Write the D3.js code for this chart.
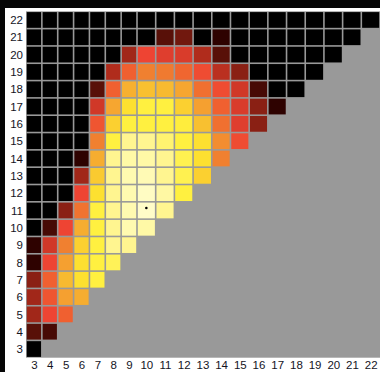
<!DOCTYPE html>
<html><head><meta charset="utf-8">
<script src="https://cdn.jsdelivr.net/npm/d3@7"></script>
<style>html,body{margin:0;padding:0;background:#050505;} svg{display:block;}</style>
</head><body>
<svg id="c" width="380" height="372"></svg>
<script>
const xLabels = [3,4,5,6,7,8,9,10,11,12,13,14,15,16,17,18,19,20,21,22];
const yLabels = [3,4,5,6,7,8,9,10,11,12,13,14,15,16,17,18,19,20,21,22];

// values per row (y = 3 .. 22), each row lists x = 3 .. y
const row3  = [0];
const row4  = [2, 1.6];
const row5  = [3.6, 6, 7];
const row6  = [3.6, 6.6, 9, 9.4];
const row7  = [3, 7, 9.8, 11, 12];
const row8  = [1, 6, 9, 11, 12, 12.3];
const row9  = [1, 5, 8, 10.5, 12, 13, 13];
const row10 = [0, 1.6, 6, 9.4, 12, 13, 14, 13.7];
const row11 = [0, 0, 3, 7.6, 12, 13, 14, 15, 13];
const row12 = [0, 0, 0, 6, 11, 13, 14, 14.8, 13.6, 12];
const row13 = [0, 0, 0, 3.6, 10.3, 13, 14, 14.2, 13, 12.2, 10.5];
const row14 = [0, 0, 0, 1, 9.4, 13, 13.7, 13.7, 13, 12.2, 11, 8];
const row15 = [0, 0, 0, 0, 8, 12, 13, 13, 12.6, 12, 11, 8.4, 6.3];
const row16 = [0, 0, 0, 0, 6.6, 10.5, 12, 12, 12, 11.8, 10, 7.5, 5.5, 3];
const row17 = [0, 0, 0, 0, 5, 9.2, 11, 12, 12, 10.5, 9, 7, 5.3, 3, 1];
const row18 = [0, 0, 0, 0, 2, 7, 9.5, 10, 9.8, 9.2, 7.5, 6.3, 5, 1.6, 0, 0];
const row19 = [0, 0, 0, 0, 0, 4, 7, 8, 7.8, 7.2, 6.3, 4.3, 3, 0, 0, 0, 0];
const row20 = [0, 0, 0, 0, 0, 0, 3.6, 6, 5.5, 5.3, 4, 2, 0, 0, 0, 0, 0, 0];
const row21 = [0, 0, 0, 0, 0, 0, 0, 0, 2, 2.5, 0, 1, 0, 0, 0, 0, 0, 0, 0];
const row22 = [0, 0, 0, 0, 0, 0, 0, 0, 0, 0, 0, 0, 0, 0, 0, 0, 0, 0, 0, 0];
const rows = [row3,row4,row5,row6,row7,row8,row9,row10,row11,row12,row13,row14,row15,row16,row17,row18,row19,row20,row21,row22];

const markedX = [10];
const markedY = [11];

const colorStops = ["#000000","#2e0200","#581008","#8a2014","#b02c1c","#d03828","#ee4433",
  "#f06030","#f08030","#f5a030","#f8c030","#fde030","#fff040","#fff590","#fffab0","#fffcc8"];

const svg = d3.select("#c");
svg.append("rect").attr("width",380).attr("height",372).attr("fill","#060606");
svg.append("rect").attr("x",5).attr("y",8).attr("width",375).attr("height",364).attr("fill","#ffffff");

const x = d3.scaleLinear().domain([2.5, 9.5, 22.5]).range([26, 137, 380]);
const y = d3.scaleLinear().domain([2.5, 22.5]).range([357.7, 11.3]);
const color = d3.scaleLinear().domain(d3.range(colorStops.length)).range(colorStops)
  .interpolate(d3.interpolateRgb).clamp(true);

svg.append("rect")
  .attr("x", x(2.5)).attr("y", y(22.5))
  .attr("width", x(22.5) - x(2.5)).attr("height", y(2.5) - y(22.5))
  .attr("fill", "#999999");

const cells = [];
rows.forEach((r, i) => {
  const yy = yLabels[i];
  r.forEach((v, j) => cells.push({x: xLabels[j], y: yy, v}));
});

const gap = 0.8;
svg.append("g").selectAll("rect").data(cells).join("rect")
  .attr("x", d => x(d.x - 0.5) + gap)
  .attr("y", d => y(d.y + 0.5) + gap)
  .attr("width", d => x(d.x + 0.5) - x(d.x - 0.5) - 2*gap)
  .attr("height", d => y(d.y - 0.5) - y(d.y + 0.5) - 2*gap)
  .attr("fill", d => color(d.v));

svg.append("g").selectAll("circle").data(markedX.map((mx,i)=>({x:mx,y:markedY[i]}))).join("circle")
  .attr("cx", d => x(d.x)).attr("cy", d => y(d.y) - 2.5).attr("r", 1.3).attr("fill", "#000");

const fontFam = "'Liberation Sans', Arial, Helvetica, sans-serif";
const ya = svg.append("g").attr("transform", `translate(${x(2.5)},0)`)
  .call(d3.axisLeft(y).tickValues(yLabels).tickSize(0).tickPadding(3));
const xa = svg.append("g").attr("transform", `translate(0,${y(2.5)})`)
  .call(d3.axisBottom(x).tickValues(xLabels).tickSize(0).tickPadding(3));
[ya, xa].forEach(a => {
  a.select(".domain").remove();
  a.selectAll("text").attr("font-family", fontFam).attr("font-size", 11.5).attr("fill", "#14141e");
});
</script>
</body></html>
